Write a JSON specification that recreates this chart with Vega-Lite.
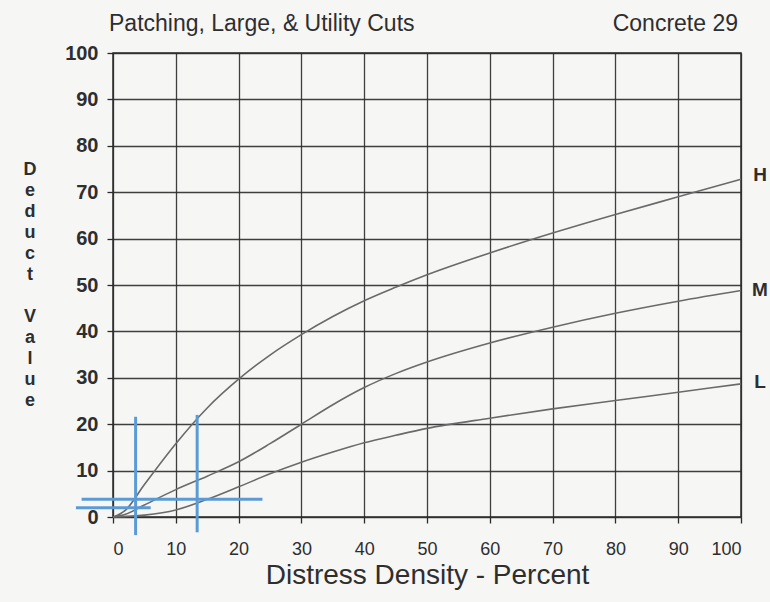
{
  "$schema": "https://vega.github.io/schema/vega-lite/v6.json",
  "width": 628,
  "height": 464,
  "autosize": {"type": "none"},
  "padding": {"left": 113, "top": 53, "right": 29, "bottom": 85},
  "background": "#f6f6f5",
  "config": {
    "font": "Liberation Sans",
    "view": {"stroke": "#2b2b2b", "strokeWidth": 1.5},
    "axis": {
      "grid": true,
      "gridColor": "#2b2b2b",
      "gridWidth": 1.3,
      "gridOpacity": 0.9,
      "domain": false,
      "tickColor": "#2b2b2b",
      "tickSize": 6,
      "tickWidth": 1.3,
      "labelFont": "Liberation Sans",
      "labelColor": "#2e2e2e",
      "titleFont": "Liberation Sans",
      "titleColor": "#2e2e2e"
    }
  },
  "datasets": {
    "curves": [
      {"level": "H", "density": 0, "deduct": 0},
      {"level": "H", "density": 2, "deduct": 1.5},
      {"level": "H", "density": 5, "deduct": 7},
      {"level": "H", "density": 10, "deduct": 15.8},
      {"level": "H", "density": 15, "deduct": 23.5},
      {"level": "H", "density": 20, "deduct": 29.7},
      {"level": "H", "density": 25, "deduct": 34.9},
      {"level": "H", "density": 30, "deduct": 39.3},
      {"level": "H", "density": 35, "deduct": 43.2},
      {"level": "H", "density": 40, "deduct": 46.6},
      {"level": "H", "density": 45, "deduct": 49.5},
      {"level": "H", "density": 50, "deduct": 52.2},
      {"level": "H", "density": 60, "deduct": 56.9},
      {"level": "H", "density": 70, "deduct": 61.2},
      {"level": "H", "density": 80, "deduct": 65.2},
      {"level": "H", "density": 90, "deduct": 69.0},
      {"level": "H", "density": 100, "deduct": 72.8},
      {"level": "M", "density": 0, "deduct": 0},
      {"level": "M", "density": 2, "deduct": 0.6},
      {"level": "M", "density": 5, "deduct": 2.6},
      {"level": "M", "density": 10, "deduct": 5.9},
      {"level": "M", "density": 15, "deduct": 8.8},
      {"level": "M", "density": 20, "deduct": 11.9},
      {"level": "M", "density": 25, "deduct": 15.8},
      {"level": "M", "density": 30, "deduct": 20},
      {"level": "M", "density": 35, "deduct": 24.2},
      {"level": "M", "density": 40, "deduct": 27.9},
      {"level": "M", "density": 45, "deduct": 30.9},
      {"level": "M", "density": 50, "deduct": 33.4},
      {"level": "M", "density": 60, "deduct": 37.5},
      {"level": "M", "density": 70, "deduct": 40.9},
      {"level": "M", "density": 80, "deduct": 43.9},
      {"level": "M", "density": 90, "deduct": 46.5},
      {"level": "M", "density": 100, "deduct": 48.8},
      {"level": "L", "density": 0, "deduct": 0},
      {"level": "L", "density": 5, "deduct": 0.4},
      {"level": "L", "density": 10, "deduct": 1.5},
      {"level": "L", "density": 15, "deduct": 3.8},
      {"level": "L", "density": 20, "deduct": 6.5},
      {"level": "L", "density": 25, "deduct": 9.3},
      {"level": "L", "density": 30, "deduct": 11.8},
      {"level": "L", "density": 35, "deduct": 14},
      {"level": "L", "density": 40, "deduct": 16},
      {"level": "L", "density": 45, "deduct": 17.6},
      {"level": "L", "density": 50, "deduct": 19.1},
      {"level": "L", "density": 60, "deduct": 21.3},
      {"level": "L", "density": 70, "deduct": 23.3},
      {"level": "L", "density": 80, "deduct": 25.1},
      {"level": "L", "density": 90, "deduct": 26.9},
      {"level": "L", "density": 100, "deduct": 28.7}
    ],
    "marks": [
      {"x": 3.6, "x2": 3.6, "y": -3.9, "y2": 21.6},
      {"x": 13.4, "x2": 13.4, "y": -3.3, "y2": 22},
      {"x": -5, "x2": 23.8, "y": 3.8, "y2": 3.8},
      {"x": -5.9, "x2": 6, "y": 2, "y2": 2}
    ],
    "labels": [
      {"level": "H", "density": 100, "deduct": 73.6},
      {"level": "M", "density": 100, "deduct": 48.9},
      {"level": "L", "density": 100, "deduct": 29.1}
    ],
    "ytitle": [
      {"letters": ["D", "e", "d", "u", "c", "t"], "density": -13.2, "deduct": 76.7},
      {"letters": ["V", "a", "l", "u", "e"], "density": -13.2, "deduct": 45.0}
    ],
    "headings": [
      {"text": "Patching, Large, & Utility Cuts", "density": 0, "deduct": 100, "side": "left"},
      {"text": "Concrete 29", "density": 100, "deduct": 100, "side": "right"}
    ]
  },
  "layer": [
    {
      "data": {"name": "curves"},
      "mark": {"type": "line", "interpolate": "monotone", "color": "#6a6a6a", "strokeWidth": 1.6},
      "encoding": {
        "x": {
          "field": "density", "type": "quantitative",
          "scale": {"domain": [0, 100], "nice": false},
          "axis": {
            "values": [0, 10, 20, 30, 40, 50, 60, 70, 80, 90, 100],
            "labelFontSize": 18,
            "labelPadding": 17,
            "title": "Distress Density - Percent",
            "titleFontSize": 28,
            "titleFontWeight": "normal",
            "titlePadding": 3
          }
        },
        "y": {
          "field": "deduct", "type": "quantitative",
          "scale": {"domain": [0, 100], "nice": false},
          "axis": {
            "values": [0, 10, 20, 30, 40, 50, 60, 70, 80, 90, 100],
            "labelFontSize": 20,
            "labelFontWeight": "bold",
            "labelPadding": 9,
            "title": null
          }
        },
        "detail": {"field": "level"}
      }
    },
    {
      "data": {"name": "marks"},
      "mark": {"type": "rule", "color": "#5b9bd5", "strokeWidth": 3},
      "encoding": {
        "x": {"field": "x", "type": "quantitative"},
        "x2": {"field": "x2"},
        "y": {"field": "y", "type": "quantitative"},
        "y2": {"field": "y2"}
      }
    },
    {
      "data": {"name": "labels"},
      "mark": {"type": "text", "align": "center", "baseline": "middle", "dx": 19, "fontSize": 19, "fontWeight": "bold", "color": "#2e2e2e"},
      "encoding": {
        "x": {"field": "density", "type": "quantitative"},
        "y": {"field": "deduct", "type": "quantitative"},
        "text": {"field": "level"}
      }
    },
    {
      "data": {"name": "ytitle"},
      "mark": {"type": "text", "align": "center", "baseline": "top", "fontSize": 18, "fontWeight": "bold", "lineHeight": 21, "color": "#2e2e2e"},
      "encoding": {
        "x": {"field": "density", "type": "quantitative"},
        "y": {"field": "deduct", "type": "quantitative"},
        "text": {"field": "letters"}
      }
    },
    {
      "data": {"name": "headings"},
      "transform": [{"filter": "datum.side === 'left'"}],
      "mark": {"type": "text", "align": "left", "baseline": "alphabetic", "dx": -4, "dy": -22, "fontSize": 23, "color": "#2e2e2e"},
      "encoding": {
        "x": {"field": "density", "type": "quantitative"},
        "y": {"field": "deduct", "type": "quantitative"},
        "text": {"field": "text"}
      }
    },
    {
      "data": {"name": "headings"},
      "transform": [{"filter": "datum.side === 'right'"}],
      "mark": {"type": "text", "align": "right", "baseline": "alphabetic", "dx": -3, "dy": -22, "fontSize": 23, "color": "#2e2e2e"},
      "encoding": {
        "x": {"field": "density", "type": "quantitative"},
        "y": {"field": "deduct", "type": "quantitative"},
        "text": {"field": "text"}
      }
    }
  ]
}
